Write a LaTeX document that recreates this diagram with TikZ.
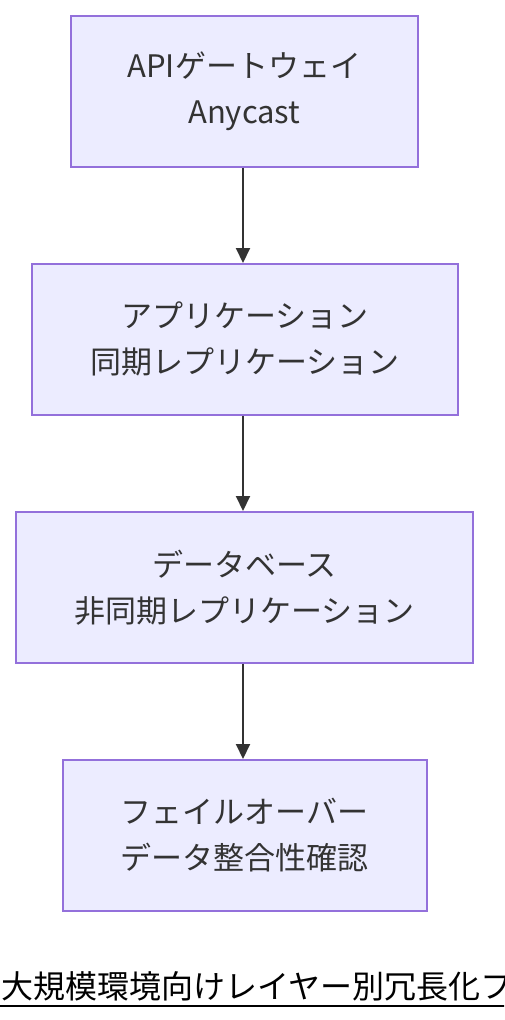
\documentclass[tikz,border=0pt]{standalone}
\usepackage{fontspec}
\setmainfont{Noto Sans CJK JP}
\usetikzlibrary{arrows.meta}
\definecolor{boxfill}{HTML}{ECECFF}
\definecolor{boxline}{HTML}{9370DB}
\definecolor{ink}{HTML}{333333}
\begin{document}
\begin{tikzpicture}[x=1pt,y=-1pt,
  stepbox/.style={draw=boxline,fill=boxfill,line width=1.6pt,text=ink,align=center,
    font=\fontsize{31}{46}\selectfont,inner sep=0pt,anchor=north west},
  conn/.style={draw=ink,line width=2pt,-{Triangle[length=15pt,width=14pt]}}]
\clip (0,0) rectangle (504,1020);
\useasboundingbox (0,0) rectangle (504,1020);
\node[stepbox,minimum width=347pt,minimum height=151pt] (a) at (70,15) {APIゲートウェイ\\Anycast};
\node[stepbox,minimum width=426pt,minimum height=151pt] (b) at (31,263) {アプリケーション\\同期レプリケーション};
\node[stepbox,minimum width=457pt,minimum height=151pt] (c) at (15,511) {データベース\\非同期レプリケーション};
\node[stepbox,minimum width=364pt,minimum height=151pt] (d) at (62,759) {フェイルオーバー\\データ整合性確認};
\draw[conn] (a.south -| 243,0) -- (b.north -| 243,0);
\draw[conn] (b.south -| 243,0) -- (c.north -| 243,0);
\draw[conn] (c.south -| 243,0) -- (d.north -| 243,0);
\node[anchor=base west,inner sep=0pt,font=\fontsize{32}{36}\selectfont] (t) at (1,998) {大規模環境向けレイヤー別冗長化フロー};
\draw[line width=2pt] (0,1006) -- (t.east |- 0,1006);
\end{tikzpicture}
\end{document}
